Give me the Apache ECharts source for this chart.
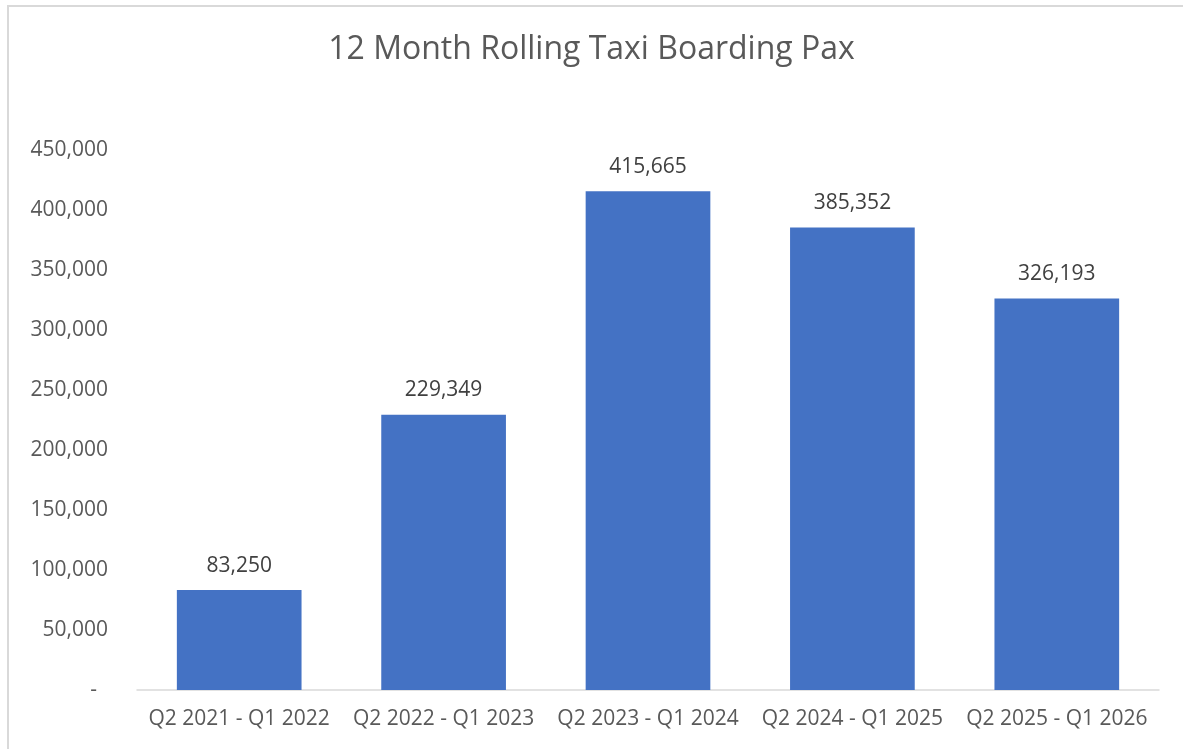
<!DOCTYPE html>
<html>
<head>
<meta charset="utf-8">
<script src="https://cdn.jsdelivr.net/npm/echarts@6/dist/echarts.min.js"></script>
<style>
  html, body { margin: 0; padding: 0; background: #fff; overflow: hidden; }
  #frame { position: absolute; left: 7px; top: 5px; width: 1300px; height: 900px; border-left: 2px solid #d9d9d9; border-top: 2px solid #d9d9d9; box-sizing: border-box; }
  #chart { position: absolute; left: 0; top: 0; width: 1183px; height: 749px; }
</style>
</head>
<body>
<div id="frame"></div>
<div id="chart"></div>
<script>
// 12 month rolling periods
const periods = ["Q2 2021 - Q1 2022", "Q2 2022 - Q1 2023", "Q2 2023 - Q1 2024", "Q2 2024 - Q1 2025", "Q2 2025 - Q1 2026"];
const paxValues = [83250, 229349, 415665, 385352, 326193];

const fontName = "Open Sans";
const fmt = v => v.toLocaleString("en-US");

const myChart = echarts.init(document.getElementById("chart"), null, { renderer: "canvas" });

const option = {
  animation: false,
  title: {
    text: "12 Month Rolling Taxi Boarding Pax",
    left: "center",
    top: 29,
    textStyle: { fontFamily: fontName, fontSize: 32, fontWeight: "normal", color: "#595959" }
  },
  grid: { left: 137, right: 24, top: 150, bottom: 59, containLabel: false },
  xAxis: {
    type: "category",
    data: periods,
    axisLine: { show: true, lineStyle: { color: "#d9d9d9", width: 1.5 } },
    axisTick: { show: false },
    axisLabel: { interval: 0, fontFamily: fontName, fontSize: 21, color: "#595959", margin: 19 }
  },
  yAxis: {
    type: "value",
    min: 0,
    max: 450000,
    interval: 50000,
    axisLine: { show: false },
    axisTick: { show: false },
    splitLine: { show: false },
    axisLabel: {
      fontFamily: fontName, fontSize: 21, color: "#595959", margin: 29,
      formatter: v => (v === 0 ? "-  " : fmt(v))
    }
  },
  series: [{
    type: "bar",
    data: paxValues,
    barCategoryGap: "39%",
    itemStyle: { color: "#4472c4" },
    label: {
      show: true,
      position: "top",
      distance: 14,
      fontFamily: fontName,
      fontSize: 21,
      color: "#404040",
      formatter: p => fmt(p.value)
    }
  }]
};

myChart.setOption(option);
</script>
</body>
</html>
